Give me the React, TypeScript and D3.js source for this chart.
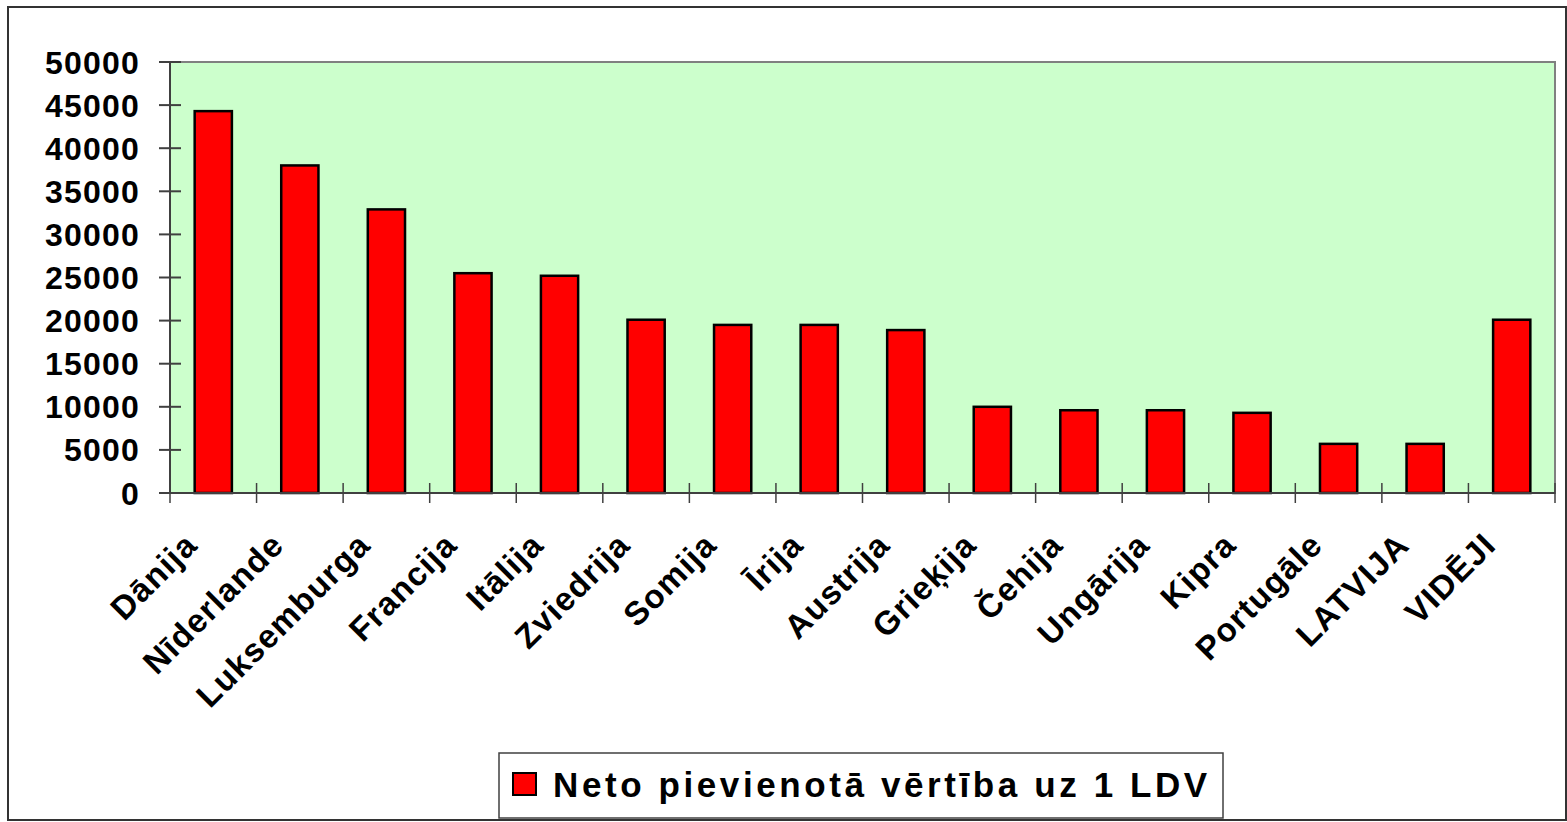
import React from "react";
import * as d3 from "d3";

const countries = [
  "Dānija",
  "Nīderlande",
  "Luksemburga",
  "Francija",
  "Itālija",
  "Zviedrija",
  "Somija",
  "Īrija",
  "Austrija",
  "Grieķija",
  "Čehija",
  "Ungārija",
  "Kipra",
  "Portugāle",
  "LATVIJA",
  "VIDĒJI",
];
const values = [
  44300, 38000, 32900, 25500, 25200, 20100, 19500, 19500, 18900, 10000, 9600,
  9600, 9300, 5700, 5700, 20100,
];
const yTicks = [0, 5000, 10000, 15000, 20000, 25000, 30000, 35000, 40000, 45000, 50000];
const seriesName = "Neto pievienotā vērtība uz 1 LDV";

const W = 1567;
const H = 822;
const plot = { left: 170, right: 1555, top: 62, bottom: 493 };
const font = "'Liberation Sans', Arial, sans-serif";

const App = () => {
  const x = d3
    .scaleBand<string>()
    .domain(countries)
    .range([plot.left, plot.right])
    .paddingInner(0.57)
    .paddingOuter(0.285);
  const step = (plot.right - plot.left) / countries.length;

  const y = d3.scaleLinear().domain([0, 50000]).range([plot.bottom, plot.top]);

  // boundaries between categories, where Excel puts its ticks
  const bounds = d3.range(countries.length + 1).map((i) => plot.left + i * step);

  return (
    <svg
      width={W}
      height={H}
      style={{ position: "absolute", left: 0, top: 0, background: "#fff" }}
      fontFamily={font}
    >
      {/* outer chart frame */}
      <rect x={8} y={7} width={W - 9} height={H - 9} fill="#fff" stroke="#333" strokeWidth={2} />

      {/* plot area */}
      <rect
        x={plot.left}
        y={plot.top}
        width={plot.right - plot.left}
        height={plot.bottom - plot.top}
        fill="#CCFFCC"
        stroke="#808080"
        strokeWidth={2}
      />

      {/* bars */}
      {countries.map((c, i) => (
        <rect
          key={c}
          x={x(c)}
          y={y(values[i])}
          width={x.bandwidth()}
          height={y(0) - y(values[i])}
          fill="#FF0000"
          stroke="#000"
          strokeWidth={2.5}
        />
      ))}

      {/* axes */}
      <line x1={plot.left} x2={plot.left} y1={plot.top} y2={plot.bottom} stroke="#404040" strokeWidth={2} />
      <line x1={plot.left} x2={plot.right} y1={plot.bottom} y2={plot.bottom} stroke="#404040" strokeWidth={2} />

      {yTicks.map((t) => (
        <g key={t}>
          <line x1={plot.left - 11} x2={plot.left + 11} y1={y(t)} y2={y(t)} stroke="#404040" strokeWidth={2} />
          <text
            x={140}
            y={y(t) + 11.5}
            textAnchor="end"
            fontSize={32}
            fontWeight="bold"
            letterSpacing={1.2}
            fill="#000"
          >
            {t}
          </text>
        </g>
      ))}

      {bounds.map((b, i) => (
        <line key={i} x1={b} x2={b} y1={plot.bottom - 10} y2={plot.bottom + 10} stroke="#404040" strokeWidth={1.5} />
      ))}

      {countries.map((c) => {
        const cx = (x(c) as number) + x.bandwidth() / 2 - 14;
        const cy = plot.bottom + 54;
        return (
          <text
            key={c}
            transform={`translate(${cx},${cy}) rotate(-45)`}
            textAnchor="end"
            fontSize={33}
            fontWeight="bold"
            letterSpacing={1.2}
            fill="#000"
          >
            {c}
          </text>
        );
      })}

      {/* legend */}
      <rect x={499} y={753} width={724} height={65} fill="#fff" stroke="#404040" strokeWidth={1.5} />
      <rect x={513} y={773} width={23} height={22} fill="#FF0000" stroke="#000" strokeWidth={2} />
      <text x={553} y={797} fontSize={35} fontWeight="bold" letterSpacing={3.6} fill="#000">
        {seriesName}
      </text>
    </svg>
  );
};

export default App;
